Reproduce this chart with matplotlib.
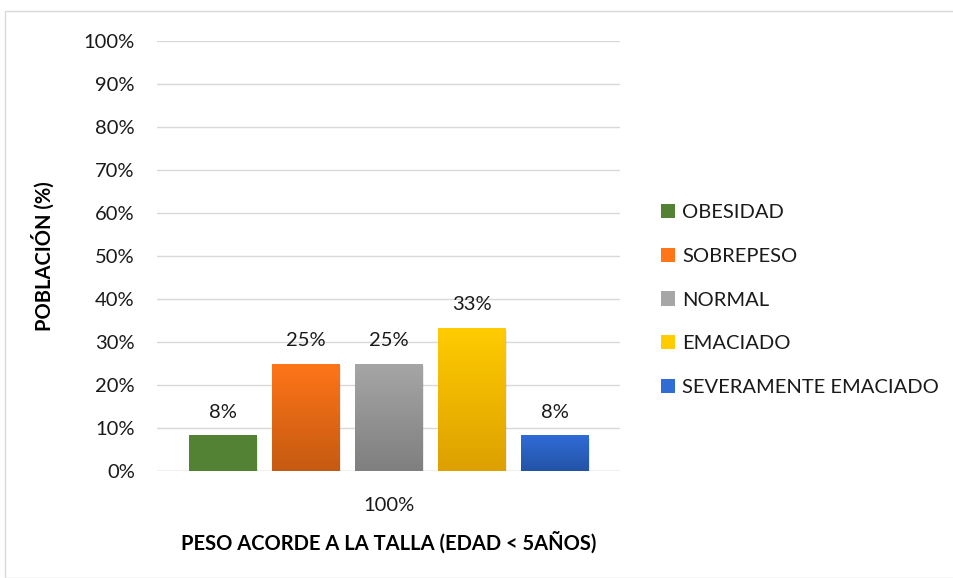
import numpy as np
import matplotlib.pyplot as plt
from matplotlib.colors import LinearSegmentedColormap
from matplotlib.patches import Rectangle, Patch

# data
categories = ["OBESIDAD", "SOBREPESO", "NORMAL", "EMACIADO", "SEVERAMENTE EMACIADO"]
values = [8.33, 25.0, 25.0, 33.33, 8.33]
labels = ["8%", "25%", "25%", "33%", "8%"]
group_label = "100%"
yticks = list(range(0, 101, 10))

# top / bottom colours of each bar's gradient
top_colors = ["#548235", "#FF7518", "#A6A6A6", "#FFCC00", "#2F6CD6"]
bottom_colors = ["#548235", "#C55A11", "#7F7F7F", "#DDA000", "#2453A6"]

plt.rcParams["font.family"] = ["Lato", "DejaVu Sans"]
fs = 14.5

fig = plt.figure(figsize=(9.54, 5.78), dpi=100)
ax = fig.add_axes([157 / 954, 1 - 471 / 578, 463 / 954, 430 / 578])

# light frame around the whole chart
fig.patches.append(Rectangle((5 / 954, 0), 1, 1 - 11 / 578, transform=fig.transFigure,
                             fill=False, edgecolor="#D9D9D9", lw=1))

pitch = 83 / 463
width = 67.5 / 463
xs = (np.arange(len(values)) - 2) * pitch

grad = np.linspace(1, 0, 256).reshape(-1, 1)
for x, v, lab, c1, c2, name in zip(xs, values, labels, top_colors, bottom_colors, categories):
    # faint shadow
    ax.add_patch(Rectangle((x - width / 2 + 0.003, -0.6), width, v, color="#000000",
                           alpha=0.08, lw=0, zorder=2))
    bar = ax.bar(x, v, width, color=c1, zorder=3, label=name)[0]
    cmap = LinearSegmentedColormap.from_list("g", [c2, c1])
    im = ax.imshow(grad, cmap=cmap, extent=[x - width / 2, x + width / 2, 0, v],
                   aspect="auto", zorder=4, vmin=0, vmax=1)
    im.set_clip_path(bar)
    ax.text(x, v + 3.4, lab, ha="center", va="bottom", fontsize=fs, color="#1a1a1a", zorder=5)

ax.set_xlim(-0.5, 0.5)
ax.set_ylim(0, 100)
ax.set_yticks(yticks)
ax.set_yticklabels([f"{t}%" for t in yticks], fontsize=fs, color="#1a1a1a")
ax.set_xticks([0])
ax.set_xticklabels([group_label], fontsize=fs, color="#1a1a1a")
ax.tick_params(length=0, axis="both")
ax.tick_params(axis="x", pad=19)
ax.tick_params(axis="y", pad=16)
ax.grid(axis="y", color="#D9D9D9", lw=1, zorder=0)
ax.set_axisbelow(True)
for s in ax.spines.values():
    s.set_visible(False)
ax.axhline(0, color="#D9D9D9", lw=1, zorder=1)

ax.set_ylabel("POBLACIÓN (%)", fontsize=fs, fontweight="bold", color="#000000", labelpad=21)
ax.set_xlabel("PESO ACORDE A LA TALLA (EDAD < 5AÑOS)", fontsize=fs, fontweight="bold",
              color="#000000", labelpad=12)

handles = [Patch(facecolor=c) for c in top_colors]
leg = fig.legend(handles, categories, loc="upper left", bbox_to_anchor=(643 / 954, 1 - 186 / 578),
                 frameon=False, fontsize=fs, handlelength=0.7, handleheight=0.7,
                 handletextpad=0.35, labelspacing=1.32, labelcolor="#1a1a1a")

fig.savefig("out.png", dpi=100)
